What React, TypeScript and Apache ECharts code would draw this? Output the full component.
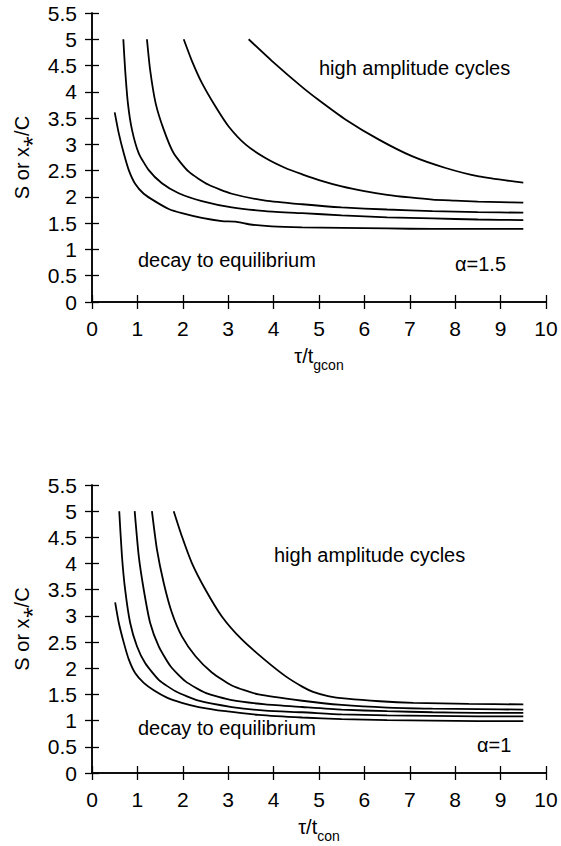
import React, { useEffect, useRef } from "react";
import * as echarts from "echarts";

type Pt = [number, number];

// Top panel (alpha = 1.5)
const topCurve1: Pt[] = [[0.5,3.61],[0.59,3.21],[0.7,2.83],[0.81,2.51],[0.95,2.25],[1.14,2.06],[1.4,1.91],[1.69,1.77],[1.98,1.69],[2.42,1.6],[2.86,1.54],[3.16,1.53],[3.45,1.48],[3.96,1.44],[4.63,1.42],[5.5,1.41],[6.5,1.4],[7.5,1.39],[8.5,1.39],[9.5,1.39]];
const topCurve2: Pt[] = [[0.69,5.0],[0.73,4.42],[0.79,3.79],[0.88,3.28],[1.03,2.83],[1.25,2.51],[1.54,2.26],[1.91,2.07],[2.42,1.92],[3.08,1.8],[3.82,1.73],[4.63,1.69],[5.5,1.65],[6.5,1.61],[7.5,1.59],[8.5,1.57],[9.5,1.56]];
const topCurve3: Pt[] = [[1.21,5.0],[1.28,4.42],[1.4,3.79],[1.58,3.28],[1.8,2.83],[2.13,2.48],[2.57,2.23],[3.08,2.06],[3.82,1.93],[4.63,1.86],[5.5,1.8],[6.5,1.76],[7.5,1.73],[8.5,1.71],[9.5,1.7]];
const topCurve4: Pt[] = [[2.02,5.0],[2.2,4.59],[2.42,4.17],[2.72,3.72],[3.01,3.34],[3.38,3.0],[3.82,2.74],[4.26,2.55],[4.63,2.43],[5.0,2.32],[5.5,2.2],[6.0,2.11],[6.5,2.04],[7.0,1.99],[7.5,1.95],[8.0,1.93],[8.5,1.91],[9.0,1.9],[9.5,1.89]];
const topCurve5: Pt[] = [[3.45,5.0],[3.96,4.59],[4.63,4.09],[5.0,3.84],[5.59,3.47],[6.32,3.09],[7.06,2.77],[7.79,2.55],[8.52,2.39],[9.5,2.27]];

// Bottom panel (alpha = 1)
const botCurve1: Pt[] = [[0.51,3.26],[0.59,2.87],[0.7,2.49],[0.81,2.17],[0.95,1.91],[1.14,1.72],[1.36,1.58],[1.65,1.44],[1.98,1.34],[2.35,1.26],[2.94,1.18],[3.67,1.11],[4.63,1.06],[5.5,1.03],[6.5,1.01],[7.5,1.0],[8.5,0.99],[9.5,0.99]];
const botCurve2: Pt[] = [[0.6,5.0],[0.66,4.14],[0.73,3.5],[0.84,2.87],[0.99,2.42],[1.17,2.1],[1.47,1.78],[1.84,1.56],[2.35,1.38],[3.08,1.26],[3.82,1.19],[4.63,1.16],[5.5,1.12],[6.5,1.1],[7.5,1.09],[8.5,1.08],[9.5,1.08]];
const botCurve3: Pt[] = [[0.94,5.0],[1.03,4.14],[1.14,3.5],[1.28,2.87],[1.47,2.42],[1.73,2.04],[2.06,1.75],[2.5,1.53],[3.08,1.39],[3.82,1.31],[4.63,1.26],[5.5,1.21],[6.5,1.18],[7.5,1.16],[8.5,1.15],[9.5,1.15]];
const botCurve4: Pt[] = [[1.32,5.0],[1.43,4.27],[1.58,3.63],[1.76,3.06],[1.98,2.61],[2.28,2.23],[2.64,1.92],[3.08,1.67],[3.67,1.5],[4.63,1.38],[5.5,1.3],[6.5,1.25],[7.5,1.23],[8.5,1.22],[9.5,1.21]];
const botCurve5: Pt[] = [[1.8,5.0],[1.98,4.52],[2.2,4.01],[2.5,3.5],[2.86,2.99],[3.3,2.55],[3.82,2.15],[4.26,1.85],[4.63,1.65],[4.87,1.55],[5.2,1.47],[5.61,1.42],[6.34,1.37],[7.08,1.34],[8.3,1.32],[9.5,1.31]];

const topCurves = [topCurve1, topCurve2, topCurve3, topCurve4, topCurve5];
const botCurves = [botCurve1, botCurve2, botCurve3, botCurve4, botCurve5];

const X_MIN = 0, X_MAX = 10, X_STEP = 1;
const Y_MIN = 0, Y_MAX = 5.5, Y_STEP = 0.5;

const yName = "S or x\u204E/C";
const topXName = "{a|\u03C4/t}{b|gcon}";
const botXName = "{a|\u03C4/t}{b|con}";

const FONT = '"Liberation Sans", Arial, Helvetica, sans-serif';

export default function App() {
  const ref = useRef<HTMLDivElement>(null);
  useEffect(() => {
    document.body.style.margin = "0";
    if (!ref.current) return;
    const chart = echarts.init(ref.current, undefined, { renderer: "svg" });

    const axisLine = { show: true, lineStyle: { color: "#000", width: 1.5 } };
    const tick = { show: true, inside: true, length: 7, lineStyle: { color: "#000", width: 1.3 } };
    const nameRich = {
      a: { fontSize: 20, fontFamily: FONT, color: "#000", lineHeight: 22 },
      b: { fontSize: 14, fontFamily: FONT, color: "#000", lineHeight: 14, padding: [18, 0, 0, 0] },
    };

    const makeX = (gi: number, name: string) => [
      {
        type: "value", gridIndex: gi, position: "bottom", min: X_MIN, max: X_MAX, interval: X_STEP,
        axisLine, axisTick: tick, splitLine: { show: false },
        axisLabel: { color: "#000", fontSize: 21, fontFamily: FONT, margin: 16 },
        name, nameLocation: "middle", nameGap: 40,
        nameTextStyle: { rich: nameRich },
      },
      {
        type: "value", gridIndex: gi, position: "top", min: X_MIN, max: X_MAX, interval: X_STEP,
        axisLine, axisTick: tick, splitLine: { show: false }, axisLabel: { show: false },
      },
    ];
    const makeY = (gi: number) => [
      {
        type: "value", gridIndex: gi, position: "left", min: Y_MIN, max: Y_MAX, interval: Y_STEP,
        axisLine, axisTick: tick, splitLine: { show: false },
        axisLabel: { color: "#000", fontSize: 21, fontFamily: FONT, margin: 15 },
        name: yName, nameLocation: "middle", nameGap: 60, nameRotate: 90,
        nameTextStyle: { color: "#000", fontSize: 20, fontFamily: FONT },
      },
      {
        type: "value", gridIndex: gi, position: "right", min: Y_MIN, max: Y_MAX, interval: Y_STEP,
        axisLine, axisTick: tick, splitLine: { show: false }, axisLabel: { show: false },
      },
    ];

    const mkSeries = (curves: Pt[][], axisIdx: number) =>
      curves.map((c) => ({
        type: "line",
        xAxisIndex: axisIdx,
        yAxisIndex: axisIdx,
        data: c,
        showSymbol: false,
        smooth: 0.2,
        lineStyle: { color: "#000", width: 1.8 },
        silent: true,
      }));

    const txt = (text: string, x: number, y: number) => ({
      type: "text",
      x, y,
      silent: true,
      style: {
        text, fill: "#000", fontSize: 20, fontFamily: FONT,
        align: "left", verticalAlign: "middle",
        textAlign: "left", textVerticalAlign: "middle",
      },
    });

    chart.setOption({
      animation: false,
      backgroundColor: "#fff",
      grid: [
        { left: 92, top: 13, width: 454, height: 289 },
        { left: 92, top: 485, width: 454, height: 288 },
      ],
      xAxis: [...makeX(0, topXName), ...makeX(1, botXName)],
      yAxis: [...makeY(0), ...makeY(1)],
      series: [...mkSeries(topCurves, 0), ...mkSeries(botCurves, 2)],
      graphic: [
        txt("high amplitude cycles", 319, 68),
        txt("decay to equilibrium", 138, 260),
        txt("\u03B1=1.5", 455, 264),
        txt("high amplitude cycles", 274, 555),
        txt("decay to equilibrium", 138, 728),
        txt("\u03B1=1", 477, 745),
      ],
    });
    return () => chart.dispose();
  }, []);
  return <div ref={ref} style={{ position: "absolute", left: 0, top: 0, width: 561, height: 846 }} />;
}
